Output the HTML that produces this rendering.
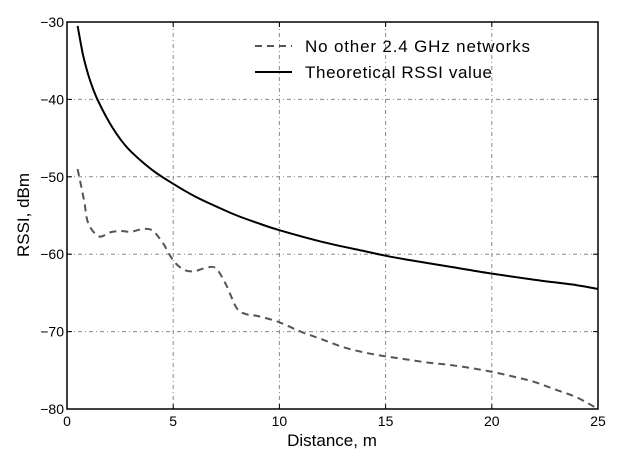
<!DOCTYPE html>
<html><head><meta charset="utf-8"><style>
body{margin:0;background:#fff;}
svg{display:block;font-family:"Liberation Sans",sans-serif;}
</style></head><body>
<svg id="chart" width="623" height="466" xmlns="http://www.w3.org/2000/svg"></svg>
<script>
const xTicks=[0,5,10,15,20,25];
const yTicks=[-80,-70,-60,-50,-40,-30];
const yTickLabels=["\u221280","\u221270","\u221260","\u221250","\u221240","\u221230"];
const measuredX=[0.5,0.8,1.0,1.5,2,2.5,3,3.5,4,4.5,5,5.5,6,6.5,7,7.5,8,8.5,9,10,11,12,13,14,15,16,17,18,19,20,21,22,23,24,25];
const measuredY=[-49,-53,-56,-57.7,-57.2,-57,-57.1,-56.8,-56.9,-58.5,-60.8,-62,-62.2,-61.8,-61.8,-64,-67,-67.8,-68,-68.8,-70,-71,-72,-72.7,-73.2,-73.6,-74,-74.3,-74.7,-75.2,-75.8,-76.5,-77.5,-78.5,-80];
const theoX=[0.5,0.75,1,1.25,1.5,2,2.5,3,4,5,6,7,8,9,10,12,14,15,16,18,20,22,24,25];
const theoY=[-30.5,-34.2,-36.8,-38.8,-40.4,-43,-45.1,-46.7,-49.1,-50.9,-52.5,-53.8,-55,-56,-56.9,-58.4,-59.6,-60.2,-60.7,-61.6,-62.5,-63.3,-64,-64.5];
const L=67,R=598,T=22,B=409;
const sx=v=>L+(v-0)/(25-0)*(R-L);
const sy=v=>B-(v+80)/50*(B-T);
const svg=document.getElementById('chart');
const NS='http://www.w3.org/2000/svg';
function el(tag,attrs,parent){const e=document.createElementNS(NS,tag);for(const k in attrs)e.setAttribute(k,attrs[k]);(parent||svg).appendChild(e);return e;}
xTicks.forEach(t=>{const g=el('line',{x1:sx(t),x2:sx(t),y1:T,y2:B,stroke:'#888','stroke-width':1,'stroke-dasharray':'4,3,1,3'});

});
yTicks.forEach(t=>{const g=el('line',{x1:L,x2:R,y1:sy(t),y2:sy(t),stroke:'#888','stroke-width':1,'stroke-dasharray':'4,3,1,3'});

});
function path(xs,ys){
  const p=xs.map((x,i)=>[sx(x),sy(ys[i])]);
  let d='M'+p[0][0].toFixed(1)+','+p[0][1].toFixed(1);
  for(let i=0;i<p.length-1;i++){
    const p0=p[i-1]||p[i],p1=p[i],p2=p[i+1],p3=p[i+2]||p[i+1];
    const c1=[p1[0]+(p2[0]-p0[0])/6,p1[1]+(p2[1]-p0[1])/6];
    const c2=[p2[0]-(p3[0]-p1[0])/6,p2[1]-(p3[1]-p1[1])/6];
    d+=' C'+c1.map(v=>v.toFixed(1))+' '+c2.map(v=>v.toFixed(1))+' '+p2.map(v=>v.toFixed(1));
  }
  return d;}
const m=el('path',{d:path(measuredX,measuredY),fill:'none',stroke:'#555','stroke-width':2,'stroke-dasharray':'7,5'});


const th=el('path',{d:path(theoX,theoY),fill:'none',stroke:'#000','stroke-width':2});


const f=el('rect',{x:L,y:T,width:R-L,height:B-T,fill:'none',stroke:'#000','stroke-width':1.5});


xTicks.forEach(t=>{el('line',{x1:sx(t),x2:sx(t),y1:B,y2:B-5,stroke:'#000'});el('line',{x1:sx(t),x2:sx(t),y1:T,y2:T+5,stroke:'#000'});
const tx=el('text',{x:sx(t),y:B+17,'text-anchor':'middle','font-size':14});tx.textContent=t;

});
yTicks.forEach((t,i)=>{el('line',{x1:L,x2:L+5,y1:sy(t),y2:sy(t),stroke:'#000'});el('line',{x1:R,x2:R-5,y1:sy(t),y2:sy(t),stroke:'#000'});
const tx=el('text',{x:L-3,y:sy(t)+5,'text-anchor':'end','font-size':14});tx.textContent=yTickLabels[i];

});
</script>
<svg style="position:absolute;left:0;top:0" width="623" height="466">
<text x="332" y="446" text-anchor="middle" font-size="17" font-family="Liberation Sans,sans-serif">Distance, m</text>
<text transform="translate(29,215) rotate(-90)" text-anchor="middle" font-size="17" font-family="Liberation Sans,sans-serif">RSSI, dBm</text>
<g font-family="Liberation Sans,sans-serif" font-size="17">
<line x1="255" x2="292" y1="46" y2="46" stroke="#555" stroke-width="2" stroke-dasharray="7,5"/>
<text x="305" y="52" textLength="225">No other 2.4 GHz networks</text>
<line x1="255" x2="292" y1="72" y2="72" stroke="#000" stroke-width="2"/>
<text x="305" y="78" textLength="187">Theoretical RSSI value</text>
</g>
</svg>
</body></html>
